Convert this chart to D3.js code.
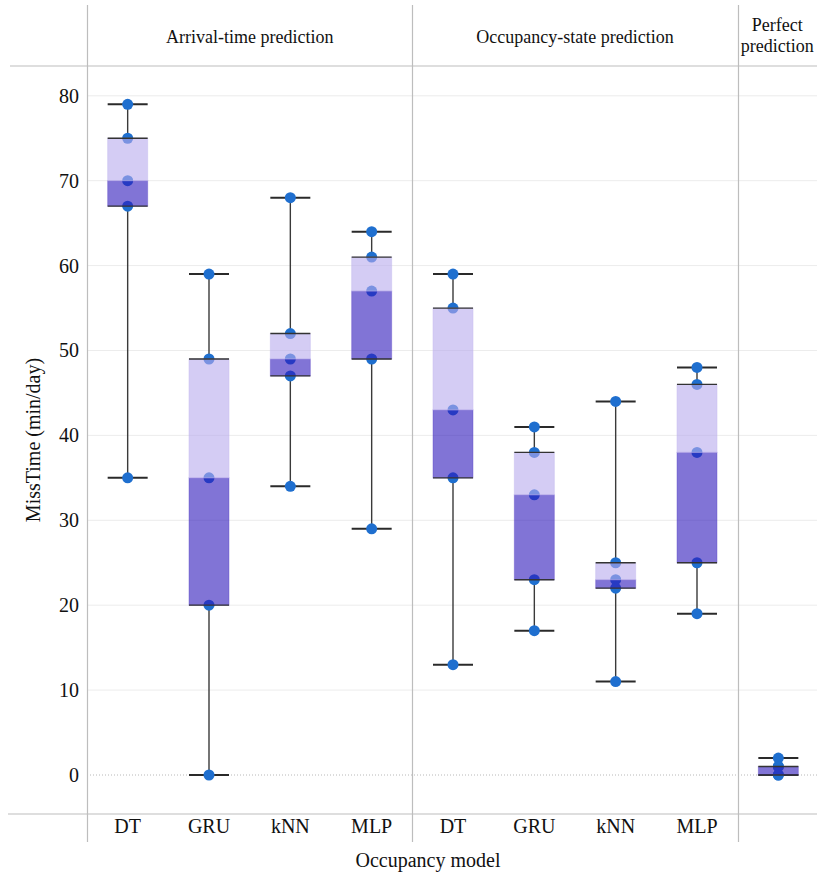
<!DOCTYPE html>
<html>
<head>
<meta charset="utf-8">
<script src="https://cdn.jsdelivr.net/npm/d3@7"></script>
<style>
  html, body { margin: 0; padding: 0; background: #fff; }
  svg { display: block; font-family: "Liberation Serif", "Times New Roman", serif; }
</style>
</head>
<body>
<svg id="chart" width="817" height="874"></svg>
<script>
// Occupancy models, grouped by prediction approach
const groups = ["Arrival-time prediction", "Occupancy-state prediction", "Perfect prediction"];
const models = ["DT", "GRU", "kNN", "MLP", "DT", "GRU", "kNN", "MLP", ""];

// Box statistics per model (min/day)
const minVals    = [35,  0, 34, 29, 13, 17, 11, 19, 0];
const q1Vals     = [67, 20, 47, 49, 35, 23, 22, 25, 0];
const medianVals = [70, 35, 49, 57, 43, 33, 23, 38, 1];
const q3Vals     = [75, 49, 52, 61, 55, 38, 25, 46, 1];
const maxVals    = [79, 59, 68, 64, 59, 41, 44, 48, 2];

// Individual observations per model
const pointVals = [
  [79, 75, 70, 67, 35],
  [59, 49, 35, 20, 0],
  [68, 52, 49, 47, 34],
  [64, 61, 57, 49, 29],
  [59, 55, 43, 35, 13],
  [41, 38, 33, 23, 17],
  [44, 25, 23, 22, 11],
  [48, 46, 38, 25, 19],
  [2, 1, 1, 0, 0]
];

const yTicks = [0, 10, 20, 30, 40, 50, 60, 70, 80];

const FONT = "Liberation Serif, Times New Roman, serif";
const svg = d3.select("#chart");
const W = 817;
const plotLeft = 87, plotRight = 819, plotTop = 66, plotBottom = 814;

const x = d3.scaleBand().domain(d3.range(models.length)).range([plotLeft, plotRight]).padding(0);
const y = d3.scaleLinear().domain([0, 80]).range([775, 95.8]);
const boxW = 40;

// Horizontal gridlines
const grid = svg.append("g");
grid.selectAll("line").data(yTicks.filter(d => d !== 0)).join("line")
  .attr("x1", plotLeft).attr("x2", W)
  .attr("y1", d => y(d)).attr("y2", d => y(d))
  .attr("stroke", "#ececec").attr("stroke-width", 1);
grid.append("line")
  .attr("x1", plotLeft).attr("x2", W)
  .attr("y1", y(0)).attr("y2", y(0))
  .attr("stroke", "#b8b8b8").attr("stroke-width", 1).attr("stroke-dasharray", "1,2");

// Frame: header and footer rules, panel separators
const frame = svg.append("g").attr("stroke", "#bdbdbd").attr("stroke-width", 1.2);
frame.append("line").attr("x1", 10).attr("x2", W).attr("y1", plotTop).attr("y2", plotTop);
frame.append("line").attr("x1", 8).attr("x2", W).attr("y1", plotBottom).attr("y2", plotBottom);
const sepIdx = [0, 4, 8];
frame.selectAll("line.sep").data(sepIdx).join("line").attr("class", "sep")
  .attr("x1", d => Math.round(x(d)) + 0.5).attr("x2", d => Math.round(x(d)) + 0.5)
  .attr("y1", 5).attr("y2", 842);

// Y axis
const yAxis = d3.axisLeft(y).tickValues(yTicks).tickSize(0).tickPadding(8);
const yg = svg.append("g").attr("transform", `translate(${plotLeft},0)`).call(yAxis);
yg.select(".domain").remove();
yg.selectAll("text").attr("font-size", 20).attr("fill", "#111").attr("font-family", FONT);

svg.append("text")
  .attr("transform", `translate(40,${(plotTop + plotBottom) / 2}) rotate(-90)`)
  .attr("text-anchor", "middle").attr("font-size", 20).attr("fill", "#111")
  .text("MissTime (min/day)");

// X axis labels
const xAxis = d3.axisBottom(x).tickFormat(i => models[i]).tickSize(0).tickPadding(5);
const xg = svg.append("g").attr("transform", `translate(0,${plotBottom})`).call(xAxis);
xg.select(".domain").remove();
xg.selectAll("text").attr("font-size", 20).attr("fill", "#111").attr("font-family", FONT);

svg.append("text").attr("x", 428).attr("y", 867)
  .attr("text-anchor", "middle").attr("font-size", 20).attr("fill", "#111")
  .text("Occupancy model");

// Panel headers
const panelRanges = [[0, 3], [4, 7], [8, 8]];
panelRanges.forEach((r, g) => {
  const pcx = (x(r[0]) + x(r[1]) + x.bandwidth()) / 2;
  if (g < 2) {
    svg.append("text").attr("text-anchor", "middle").attr("font-size", 18).attr("fill", "#111")
      .attr("x", pcx).attr("y", 43).text(groups[g]);
  } else {
    const words = groups[g].split(" ");
    words.forEach((w, k) => {
      svg.append("text").attr("text-anchor", "middle").attr("font-size", 18).attr("fill", "#111")
        .attr("x", pcx - 1).attr("y", 31 + k * 21).text(w);
    });
  }
});

// Boxes
const idx = d3.range(models.length);
const cx = i => x(i) + x.bandwidth() / 2;
const marks = svg.append("g");

// Whiskers
marks.selectAll("line.wlo").data(idx).join("line")
  .attr("x1", cx).attr("x2", cx)
  .attr("y1", i => y(minVals[i])).attr("y2", i => y(q1Vals[i]))
  .attr("stroke", "#3a3a3a").attr("stroke-width", 1.4);
marks.selectAll("line.whi").data(idx).join("line")
  .attr("x1", cx).attr("x2", cx)
  .attr("y1", i => y(q3Vals[i])).attr("y2", i => y(maxVals[i]))
  .attr("stroke", "#3a3a3a").attr("stroke-width", 1.4);

// Whisker caps
[minVals, maxVals].forEach(arr => {
  marks.append("g").selectAll("line").data(idx).join("line")
    .attr("x1", i => cx(i) - boxW / 2).attr("x2", i => cx(i) + boxW / 2)
    .attr("y1", i => y(arr[i])).attr("y2", i => y(arr[i]))
    .attr("stroke", "#2a2a2a").attr("stroke-width", 2);
});

// Observations
const pts = [];
idx.forEach(i => pointVals[i].forEach(v => pts.push({ i, v })));
marks.append("g").selectAll("circle").data(pts).join("circle")
  .attr("cx", d => cx(d.i)).attr("cy", d => y(d.v)).attr("r", 5.5)
  .attr("fill", "#1f6fcf");

// Lower box (q1 to median) and upper box (median to q3)
marks.append("g").selectAll("rect").data(idx).join("rect")
  .attr("x", i => cx(i) - boxW / 2).attr("width", boxW)
  .attr("y", i => y(medianVals[i])).attr("height", i => y(q1Vals[i]) - y(medianVals[i]))
  .attr("fill", "rgb(45,23,187)").attr("fill-opacity", 0.6)
  .attr("stroke", "rgb(90,70,200)").attr("stroke-opacity", 0.4).attr("stroke-width", 1);
marks.append("g").selectAll("rect").data(idx.filter(i => q3Vals[i] > medianVals[i])).join("rect")
  .attr("x", i => cx(i) - boxW / 2).attr("width", boxW)
  .attr("y", i => y(q3Vals[i])).attr("height", i => y(medianVals[i]) - y(q3Vals[i]))
  .attr("fill", "rgb(183,170,237)").attr("fill-opacity", 0.6)
  .attr("stroke", "rgb(200,190,240)").attr("stroke-opacity", 0.5).attr("stroke-width", 1);

// Box edges at q1 and q3
[q1Vals, q3Vals].forEach(arr => {
  marks.append("g").selectAll("line").data(idx).join("line")
    .attr("x1", i => cx(i) - boxW / 2).attr("x2", i => cx(i) + boxW / 2)
    .attr("y1", i => y(arr[i])).attr("y2", i => y(arr[i]))
    .attr("stroke", "#333").attr("stroke-width", 1.3);
});
</script>
</body>
</html>
